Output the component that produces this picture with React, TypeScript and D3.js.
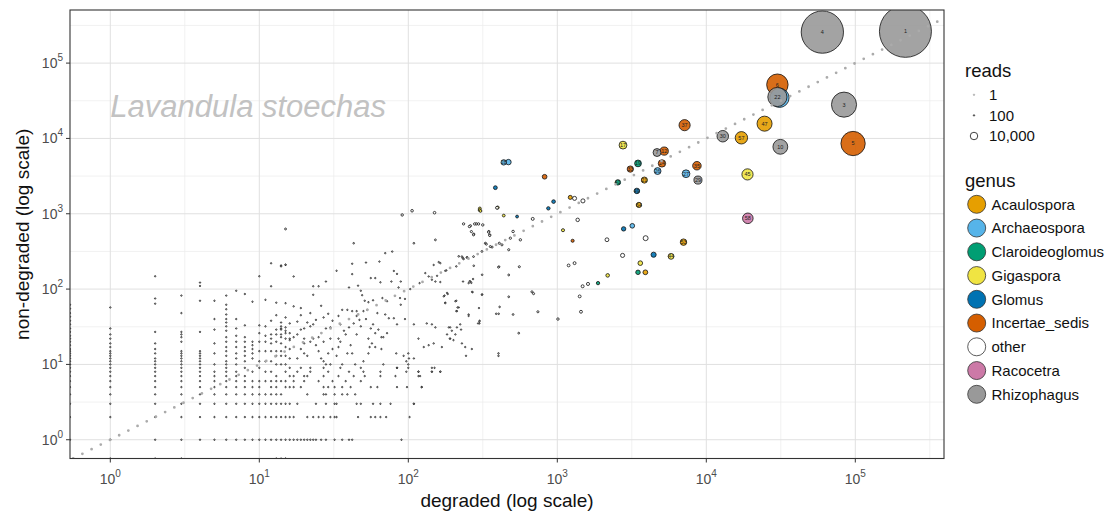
import React from 'react';
import * as d3 from 'd3';

// ---------- data ----------
const genusNames = ['Acaulospora', 'Archaeospora', 'Claroideoglomus', 'Gigaspora', 'Glomus', 'Incertae_sedis', 'other', 'Racocetra', 'Rhizophagus'];
const genusColors = ['#E69F00', '#56B4E9', '#009E73', '#F0E442', '#0072B2', '#D55E00', '#FFFFFF', '#CC79A7', '#999999'];

const majorTicks = [1, 10, 100, 1000, 10000, 100000];
const tickExponents = ['0', '1', '2', '3', '4', '5'];
const readsLegendValues = [1, 100, 10000];
const readsLegendLabels = ['1', '100', '10,000'];

// integer-count columns: degraded value -> non-degraded values
const colDeg = [0, 1, 2, 3, 4, 5, 6, 7, 8, 9, 10, 11, 12, 13, 14, 15, 16];
const colNon = [
  [1, 2, 3, 4, 5, 6, 7, 8, 9, 10, 11, 12, 13, 14, 15, 16, 18, 20, 22, 24, 27, 30, 34, 38, 43, 48, 55, 62],
  [1, 2, 3, 4, 5, 6, 7, 8, 9, 10, 11, 12, 13, 14, 15, 17, 19, 22, 25, 30, 57],
  [1, 2, 3, 4, 5, 6, 7, 8, 9, 10, 11, 12, 14, 16, 19, 27, 64, 75, 148],
  [1, 2, 3, 4, 5, 6, 7, 8, 9, 10, 11, 12, 13, 14, 15, 20, 23, 25, 27, 48, 82],
  [1, 2, 3, 4, 5, 6, 7, 8, 9, 10, 11, 12, 13, 14, 15, 27, 70, 110, 122],
  [1, 2, 3, 4, 5, 6, 7, 8, 10, 14, 19, 29, 40, 70],
  [1, 2, 3, 4, 5, 6, 7, 8, 9, 10, 11, 13, 15, 17, 20, 23, 28, 32, 36, 40, 46, 54, 62, 82],
  [1, 2, 3, 4, 5, 6, 7, 8, 10, 12, 14, 17, 20, 24, 30, 40, 95],
  [1, 2, 3, 4, 5, 6, 7, 9, 11, 13, 15, 17, 20, 23, 33, 86],
  [1, 2, 3, 4, 5, 6, 8, 12, 14, 16, 18, 20, 68],
  [1, 2, 3, 4, 5, 6, 9, 11, 15, 20, 26, 33, 148],
  [1, 2, 3, 4, 6, 8, 11, 15, 20, 24, 32, 72],
  [1, 2, 3, 4, 5, 6, 8, 11, 15, 19, 22, 25, 38, 109, 220],
  [1, 2, 3, 4, 5, 6, 7, 10, 13, 15, 20, 25, 29, 45, 66],
  [1, 2, 3, 4, 6, 10, 13, 15, 19, 23, 30, 36, 200],
  [1, 2, 3, 5, 6, 8, 10, 13, 17, 22, 28, 42, 210],
  [1, 2, 3, 5, 7, 9, 12, 16, 21, 26, 35],
];

// integer-count rows: non-degraded value -> degraded values
const rowNon = [0, 1, 2, 3, 4, 5, 6, 7, 8, 9];
const rowDeg = [
  [1, 2, 3, 13, 14, 15],
  [17, 18, 19, 20, 21, 22, 23, 24, 26, 28, 32, 36, 40, 42, 90],
  [17, 21, 23, 25, 27, 30, 32, 33, 46, 56, 60, 65, 71, 102],
  [18, 24, 28, 32, 33, 45, 48, 58, 65, 76, 109],
  [21, 27, 28, 32, 36, 39, 44],
  [17, 19, 27, 29, 32, 36, 41, 56, 62, 84, 98, 123],
  [17, 20, 25, 31, 38, 48],
  [17, 20, 21, 27, 34, 43, 51, 65, 82, 120],
  [18, 22, 29, 40, 50, 65, 97, 117, 144, 164],
  [19, 22, 27, 35, 48, 84, 100],
];

// scattered low-abundance ASVs [degraded, non-degraded]
const scatterPoints = [
  [15, 628], [14, 206], [15, 210], [17, 147], [43, 406], [109, 406], [152, 450], [70, 300], [78, 315], [64, 232],
  [52, 225], [42, 217], [33, 175], [42, 158], [28, 126], [23, 109], [25, 109], [23, 84], [56, 140], [60, 140],
  [65, 123], [77, 126], [80, 174], [84, 159], [89, 126], [86, 105], [46, 111], [40, 105], [48, 95], [49, 83],
  [51, 70], [54, 67], [58, 71], [67, 76], [72, 69], [88, 76], [95, 74], [89, 62], [36, 53], [39, 53],
  [42, 51], [45, 51], [50, 51], [53, 53], [34, 44], [45, 44], [47, 39], [62, 48], [70, 46], [74, 41],
  [80, 41], [84, 34], [95, 40], [27, 42], [24, 39], [21, 36], [19, 56], [15, 65], [17, 59], [14, 32],
  [14, 29], [15, 31], [18, 37], [19, 29], [20, 30], [22, 32], [23, 34], [28, 30], [30, 31], [40, 31],
  [48, 32], [56, 30], [14, 25], [15, 26], [16, 22], [17, 23], [18, 25], [20, 22], [20, 19], [20, 14],
  [22, 20], [23, 22], [25, 23], [27, 20], [30, 22], [34, 22], [38, 25], [45, 25], [54, 22], [66, 23],
  [60, 26], [68, 23], [72, 26], [25, 15], [29, 14], [34, 17], [39, 14], [42, 14], [54, 14], [27, 11],
  [28, 10], [30, 10], [36, 10], [44, 10], [50, 11], [55, 17], [57, 19], [60, 17], [66, 16], [68, 10],
  [83, 14], [93, 13], [100, 14], [101, 12], [97, 11], [100, 10], [84, 9], [109, 12], [109, 3], [109, 34],
  [117, 8], [117, 7], [123, 5], [144, 9], [150, 9], [144, 8], [164, 8],
  [133, 35], [144, 34], [152, 31], [117, 22], [127, 17], [137, 18], [148, 19], [168, 17], [182, 25], [191, 22],
  [201, 21], [191, 31], [212, 31], [223, 34], [229, 19], [241, 17], [267, 16], [244, 13], [173, 80], [182, 89],
  [177, 65], [207, 69], [212, 51], [218, 57], [254, 44], [270, 91], [298, 56], [300, 37], [300, 35], [312, 84],
  [389, 47], [403, 13], [403, 14], [233, 126], [254, 120], [261, 126], [229, 270], [235, 251], [248, 262], [274, 270],
  [148, 209], [160, 228], [164, 221], [130, 163], [137, 147], [144, 133], [152, 126], [164, 124], [156, 150], [177, 175],
  [119, 120], [103, 100], [279, 733], [296, 733], [257, 676], [316, 711], [265, 580], [274, 525], [329, 406], [355, 367],
  [312, 316], [347, 580], [352, 525], [403, 195], [408, 406],
  [235, 734], [261, 692], [275, 537], [286, 734], [346, 570], [352, 515], [334, 395], [365, 361], [425, 387], [505, 582],
  [565, 451], [484, 474], [556, 198], [472, 154], [406, 198], [472, 333], [676, 92], [693, 87], [741, 50], [505, 46],
  [410, 58], [404, 47], [254, 46], [551, 26], [472, 79], [313, 85], [268, 92], [301, 38], [294, 35], [313, 155],
  [275, 204], [232, 258], [248, 264], [218, 272], [210, 200], [180, 177], [265, 121], [258, 127], [210, 70], [214, 57],
  [210, 51], [184, 86], [175, 82], [177, 66], [187, 31], [196, 28], [207, 25], [226, 29], [190, 22], [272, 136],
  [18, 12], [19, 16], [21, 13], [24, 18], [26, 12], [31, 16], [33, 13], [35, 20], [37, 28], [41, 18],
  [19, 45], [22, 48], [26, 60], [29, 47], [31, 38], [35, 34], [43, 35], [52, 40], [58, 34], [63, 29],
];

// abundant / coloured ASVs [label, genus, degraded, non-degraded]
const labelledAsvs = [
  ['1', 'Rhizophagus', 217000, 264000],
  ['4', 'Rhizophagus', 60100, 258000],
  ['3', 'Rhizophagus', 84000, 28100],
  ['5', 'Incertae_sedis', 96600, 8560],
  ['6', 'Incertae_sedis', 30000, 51700],
  ['', 'Archaeospora', 31000, 34600],
  ['22', 'Rhizophagus', 30000, 35500],
  ['47', 'Acaulospora', 24600, 15700],
  ['10', 'Rhizophagus', 31400, 7740],
  ['45', 'Gigaspora', 18900, 3330],
  ['58', 'Racocetra', 19000, 870],
  ['57', 'Acaulospora', 17200, 10200],
  ['30', 'Rhizophagus', 12900, 10700],
  ['37', 'Incertae_sedis', 7150, 15000],
  ['17', 'Gigaspora', 2760, 8150],
  ['7', 'Rhizophagus', 4670, 6500],
  ['12', 'Incertae_sedis', 5220, 6790],
  ['24', 'Incertae_sedis', 5040, 4660],
  ['19', 'Claroideoglomus', 3480, 4660],
  ['33', 'Incertae_sedis', 3090, 3920],
  ['26', 'Archaeospora', 4710, 3690],
  ['35', 'Incertae_sedis', 8650, 4340],
  ['27', 'Archaeospora', 7310, 3400],
  ['29', 'Rhizophagus', 8790, 2800],
  ['21', 'Acaulospora', 3840, 2800],
  ['41', 'Claroideoglomus', 2550, 2610],
  ['49', 'Glomus', 3420, 2010],
  ['64', 'Acaulospora', 3530, 1310],
  ['28', 'Archaeospora', 437, 4810],
  ['53', 'Acaulospora', 7030, 420],
  ['44', 'Gigaspora', 5800, 272],
];

const colouredAsvs = [
  ['Archaeospora', 470, 4850], ['Incertae_sedis', 822, 3100], ['Glomus', 384, 2220], ['Glomus', 944, 1450],
  ['Glomus', 871, 1180], ['Acaulospora', 1222, 1650], ['other', 1306, 1600], ['other', 1486, 1482],
  ['Gigaspora', 301, 1120], ['Gigaspora', 398, 1210], ['Gigaspora', 437, 946], ['Glomus', 537, 918],
  ['other', 684, 855], ['other', 1370, 830], ['Gigaspora', 1092, 605], ['Incertae_sedis', 1267, 438],
  ['other', 2154, 452], ['Glomus', 2787, 630], ['Archaeospora', 3186, 692], ['other', 3916, 474],
  ['other', 2742, 280], ['Glomus', 4430, 286], ['Gigaspora', 3606, 221], ['Claroideoglomus', 3480, 167],
  ['Acaulospora', 3900, 167], ['Gigaspora', 2178, 152], ['Claroideoglomus', 1876, 120], ['other', 1607, 117],
  ['other', 1479, 109], ['other', 1413, 80], ['other', 1442, 50], ['other', 1010, 40],
  ['other', 1191, 206], ['other', 1306, 221], ['Gigaspora', 302, 1175], ['Gigaspora', 305, 1089],
  ['other', 394, 1200], ['other', 91, 964], ['other', 106, 1096], ['other', 150, 1033],
];

// ---------- layout ----------
const W = 1115;
const H = 520;
const P = { left: 70, top: 10, right: 944, bottom: 458.5 };
const FONT = '"Liberation Sans", Arial, sans-serif';

type Pt = { deg: number; non: number; genus: string; label: string; reads: number };

export default function App() {
  const x = d3.scaleLog().domain([10 ** -0.2705, 10 ** 5.5953]).range([P.left, P.right]);
  const y = d3.scaleLog().domain([10 ** -0.249, 10 ** 5.705]).range([P.bottom, P.top]);
  const color = d3.scaleOrdinal<string, string>().domain(genusNames).range(genusColors);

  const pts: Pt[] = [];
  const add = (deg: number, non: number, genus: string, label: string) =>
    pts.push({ deg, non, genus, label, reads: deg + non });
  colDeg.forEach((d, i) => colNon[i].forEach((n) => add(d, n, 'other', '')));
  rowNon.forEach((n, i) => rowDeg[i].forEach((d) => add(d, n, 'other', '')));
  scatterPoints.forEach(([d, n]) => add(d, n, 'other', ''));
  colouredAsvs.forEach(([g, d, n]) => add(d as number, n as number, g as string, ''));
  labelledAsvs.forEach(([l, g, d, n]) => add(d as number, n as number, g as string, l as string));

  const maxReads = d3.max(pts, (p) => p.reads) as number;
  const rScale = d3.scaleSqrt().domain([0, maxReads]).range([0, 26]);
  const rad = (v: number) => Math.max(rScale(v), 0.7);
  const sorted = [...pts].sort((a, b) => b.reads - a.reads);

  const px = (p: Pt) => (p.deg > 0 ? x(p.deg) : P.left);
  const py = (p: Pt) => (p.non > 0 ? y(p.non) : P.bottom);

  const minor = d3.range(0, 6).map((k) => 10 ** (k + 0.5));
  const xMin = x.domain()[0], xMax = x.domain()[1];
  const yMin = y.domain()[0], yMax = y.domain()[1];
  const lineLo = Math.max(xMin, yMin);
  const lineHi = Math.min(xMax, yMax);

  const readsY = [94.8, 115.4, 136];
  const genusY0 = 204.3;
  const genusStep = 23.75;

  return (
    <div style={{ position: 'absolute', left: 0, top: 0, width: W, height: H, background: '#fff' }}>
      <svg width={W} height={H} style={{ display: 'block', fontFamily: FONT }}>
        <defs>
          <clipPath id="panel">
            <rect x={P.left} y={P.top} width={P.right - P.left} height={P.bottom - P.top} />
          </clipPath>
        </defs>
        <rect x={0} y={0} width={W} height={H} fill="#fff" />
        {/* grid */}
        <g>
          {minor.filter((v) => v < xMax).map((v) => (
            <line key={'mx' + v} x1={x(v)} x2={x(v)} y1={P.top} y2={P.bottom} stroke="#EBEBEB" strokeWidth={0.7} />
          ))}
          {minor.filter((v) => v < yMax).map((v) => (
            <line key={'my' + v} x1={P.left} x2={P.right} y1={y(v)} y2={y(v)} stroke="#EBEBEB" strokeWidth={0.7} />
          ))}
          {majorTicks.map((v) => (
            <line key={'Mx' + v} x1={x(v)} x2={x(v)} y1={P.top} y2={P.bottom} stroke="#E0E0E0" strokeWidth={1} />
          ))}
          {majorTicks.map((v) => (
            <line key={'My' + v} x1={P.left} x2={P.right} y1={y(v)} y2={y(v)} stroke="#E0E0E0" strokeWidth={1} />
          ))}
        </g>
        {/* annotation */}
        <text x={x(1)} y={y(19000)} fontSize={31} fontStyle="italic" fill="#C2C2C2">
          Lavandula stoechas
        </text>
        {/* points */}
        <g clipPath="url(#panel)">
          {sorted.map((p, i) => (
            <circle
              key={i}
              cx={px(p)}
              cy={py(p)}
              r={rad(p.reads)}
              fill={color(p.genus)}
              fillOpacity={0.9}
              stroke="#111"
              strokeWidth={0.8}
            />
          ))}
          {sorted.filter((p) => p.label !== '').map((p, i) => (
            <text
              key={'l' + i}
              x={px(p)}
              y={py(p)}
              dy="0.35em"
              textAnchor="middle"
              fontSize={5.5}
              fill="#222"
            >
              {p.label}
            </text>
          ))}
          {/* 1:1 line */}
          <line
            x1={x(lineLo)}
            y1={y(lineLo)}
            x2={x(lineHi)}
            y2={y(lineHi)}
            stroke="#ABABAB"
            strokeWidth={2.8}
            strokeLinecap="round"
            strokeDasharray="0 10.3"
          />
        </g>
        {/* panel border */}
        <rect x={P.left} y={P.top} width={P.right - P.left} height={P.bottom - P.top} fill="none" stroke="#333" strokeWidth={1.1} />
        {/* axes */}
        {majorTicks.map((v, i) => (
          <g key={'xt' + v}>
            <line x1={x(v)} x2={x(v)} y1={P.bottom} y2={P.bottom + 4} stroke="#333" strokeWidth={1} />
            <text x={x(v)} y={484} textAnchor="middle" fontSize={14} fill="#4D4D4D">
              10<tspan dy={-7} fontSize={10}>{tickExponents[i]}</tspan>
            </text>
          </g>
        ))}
        {majorTicks.map((v, i) => (
          <g key={'yt' + v}>
            <line x1={P.left - 4} x2={P.left} y1={y(v)} y2={y(v)} stroke="#333" strokeWidth={1} />
            <text x={63} y={y(v) + 5} textAnchor="end" fontSize={14} fill="#4D4D4D">
              10<tspan dy={-7} fontSize={10}>{tickExponents[i]}</tspan>
            </text>
          </g>
        ))}
        <text x={(P.left + P.right) / 2} y={507} textAnchor="middle" fontSize={19} fill="#111">
          degraded (log scale)
        </text>
        <text
          transform={`translate(29, ${(P.top + P.bottom) / 2}) rotate(-90)`}
          textAnchor="middle"
          fontSize={19}
          fill="#111"
        >
          non-degraded (log scale)
        </text>
        {/* legend: reads */}
        <text x={965} y={77} fontSize={18.5} fill="#111">reads</text>
        {readsLegendValues.map((v, i) => (
          <g key={'rl' + v}>
            <circle cx={974} cy={readsY[i]} r={rad(v)} fill="#fff" stroke={i === 0 ? '#999' : '#111'} strokeWidth={0.8} />
            <text x={989} y={readsY[i] + 5.3} fontSize={15} fill="#111">{readsLegendLabels[i]}</text>
          </g>
        ))}
        {/* legend: genus */}
        <text x={965} y={187} fontSize={18.5} fill="#111">genus</text>
        {genusNames.map((g, i) => (
          <g key={'gl' + g}>
            <circle cx={976.7} cy={genusY0 + i * genusStep} r={9} fill={color(g)} stroke="#333" strokeWidth={0.8} />
            <text x={991.5} y={genusY0 + i * genusStep + 5.3} fontSize={15} fill="#111">{g}</text>
          </g>
        ))}
      </svg>
    </div>
  );
}
